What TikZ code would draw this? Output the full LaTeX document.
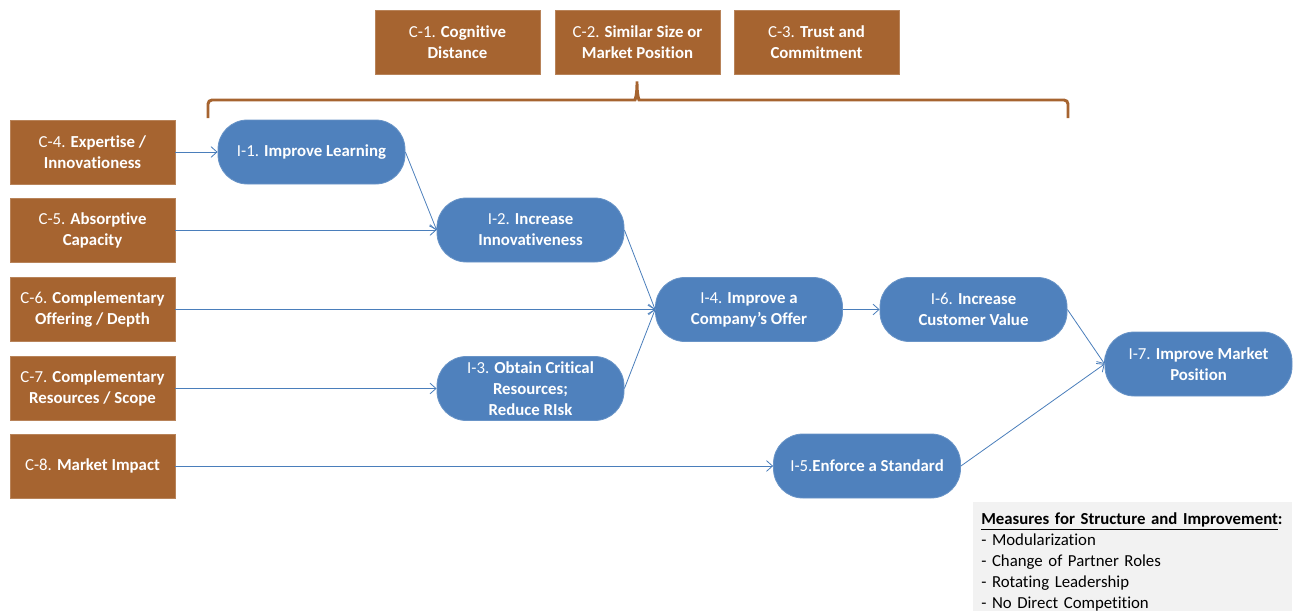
\documentclass[tikz,border=0pt]{standalone}
\usepackage{fontspec}
\setmainfont{Carlito}[Ligatures={TeX,NoCommon}]
\usetikzlibrary{arrows.meta}
\usepackage{xcolor}
\definecolor{partnerbrown}{HTML}{A66430}
\definecolor{impblue}{HTML}{4F81BD}
\definecolor{linkblue}{HTML}{4A7EBB}
\definecolor{notegray}{HTML}{F2F2F2}

\tikzset{
  cbox/.style={fill=partnerbrown, draw=partnerbrown!80!white, line width=0.6pt, text=white,
    minimum width=123.75pt, minimum height=48pt, align=center, inner sep=2pt,
    font=\fontsize{12.6}{15.75}\selectfont},
  ibox/.style={fill=impblue, draw=impblue!85!white, line width=0.6pt, text=white,
    rounded corners=22pt, minimum width=140.25pt, minimum height=48pt, align=center,
    inner sep=2pt, font=\fontsize{12.6}{15.75}\selectfont},
  link/.style={draw=linkblue, line width=0.6pt, -{Straight Barb[length=4.5pt,width=8pt]}},
  bracket/.style={draw=partnerbrown, line width=2.2pt, rounded corners=3pt}
}

\begin{document}
\begin{tikzpicture}[x=0.75pt, y=-0.75pt]
\useasboundingbox (0,0) rectangle (1298,610);

% conditions on top
\node[cbox] (c1) at (457.5,42.5) {C-1. \textbf{Cognitive}\\\textbf{Distance}};
\node[cbox] (c2) at (637.5,42.5) {C-2. \textbf{Similar Size or}\\\textbf{Market Position}};
\node[cbox] (c3) at (816.5,42.5) {C-3. \textbf{Trust and}\\\textbf{Commitment}};

% brace under them
\draw[bracket] (208,118) -- (208,100) -- (631,100)
  .. controls (635,100) and (637,95) .. (637,79)
  .. controls (637,95) and (639,100) .. (643,100) -- (1068,100) -- (1068,118);

% conditions on the left
\node[cbox] (c4) at (92.5,152) {C-4. \textbf{Expertise /}\\\textbf{Innovationess}};
\node[cbox] (c5) at (92.5,230) {C-5. \textbf{Absorptive}\\\textbf{Capacity}};
\node[cbox] (c6) at (92.5,309.5) {C-6. \textbf{Complementary}\\\textbf{Offering / Depth}};
\node[cbox] (c7) at (92.5,388.5) {C-7. \textbf{Complementary}\\\textbf{Resources / Scope}};
\node[cbox] (c8) at (92.5,466) {C-8. \textbf{Market Impact}};

% improvements
\node[ibox] (i1) at (311.5,152) {I-1. \textbf{Improve Learning}};
\node[ibox] (i2) at (530.5,230) {I-2. \textbf{Increase}\\\textbf{Innovativeness}};
\node[ibox] (i3) at (530.5,388.5) {I-3. \textbf{Obtain Critical}\\\textbf{Resources;}\\\textbf{Reduce RIsk}};
\node[ibox] (i4) at (749,309.5) {I-4. \textbf{Improve a}\\\textbf{Company’s Offer}};
\node[ibox] (i6) at (973.5,309.5) {I-6. \textbf{Increase}\\\textbf{Customer Value}};
\node[ibox] (i7) at (1198.5,364) {I-7. \textbf{Improve Market}\\\textbf{Position}};
\node[ibox] (i5) at (867,466) {I-5.\textbf{Enforce a Standard}};

% links
\draw[link] (c4.east) -- (i1.west);
\draw[link] (i1.east) -- (i2.west);
\draw[link] (c5.east) -- (i2.west);
\draw[link] (i2.east) -- (i4.west);
\draw[link] (c6.east) -- (i4.west);
\draw[link] (i3.east) -- (i4.west);
\draw[link] (c7.east) -- (i3.west);
\draw[link] (c8.east) -- (i5.west);
\draw[link] (i4.east) -- (i6.west);
\draw[link] (i6.east) -- (i7.west);
\draw[link] (i5.east) -- (i7.west);

% measures
\node[fill=notegray, anchor=north west, align=left, inner xsep=6pt, inner ysep=8pt,
  minimum width=239pt, text width=227pt, font=\fontsize{12.6}{15.75}\selectfont]
  (measures) at (973,502)
  {\underline{\textbf{Measures for Structure and Improvement}}\textbf{:}\\
   - Modularization\\
   - Change of Partner Roles\\
   - Rotating Leadership\\
   - No Direct Competition};
\end{tikzpicture}
\end{document}
